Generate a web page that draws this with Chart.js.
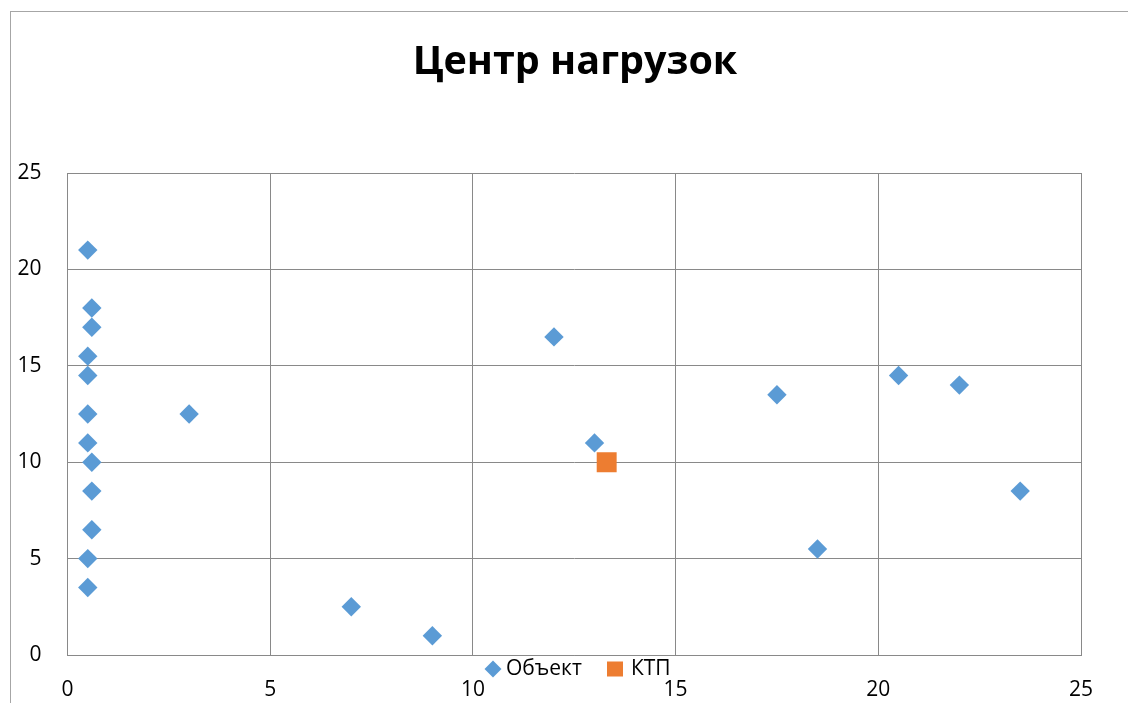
<!DOCTYPE html>
<html>
<head>
<meta charset="utf-8">
<script src="https://cdn.jsdelivr.net/npm/chart.js@4"></script>
<style>
  html, body { margin: 0; padding: 0; background: #fff; }
  #wrap { width: 1128px; height: 703px; position: relative; }
</style>
</head>
<body>
<div id="wrap"><canvas id="c" width="1128" height="703"></canvas></div>
<script>
const chartTitle = "Центр нагрузок";
const seriesNames = ["Объект", "КТП"];
const objectX = [0.5, 0.6, 0.6, 0.5, 0.5, 0.5, 0.5, 0.6, 0.6, 0.6, 0.5, 0.5, 3, 7, 9, 12, 13, 17.5, 18.5, 20.5, 22, 23.5];
const objectY = [21, 18, 17, 15.5, 14.5, 12.5, 11, 10, 8.5, 6.5, 5, 3.5, 12.5, 2.5, 1, 16.5, 11, 13.5, 5.5, 14.5, 14, 8.5];
const ktpX = [13.3];
const ktpY = [10];
const axisMin = 0, axisMax = 25, axisStep = 5;

const blue = '#5B9BD5', orange = '#ED7D31', gridGrey = '#898989';
const FONT = "'Open Sans', 'Liberation Sans', sans-serif";

const frame = {
  id: 'frame',
  beforeDraw(chart) {
    const ctx = chart.ctx;
    ctx.save();
    ctx.fillStyle = '#fff';
    ctx.fillRect(0, 0, chart.width, chart.height);
    ctx.strokeStyle = '#a6a6a6';
    ctx.lineWidth = 1;
    ctx.strokeRect(10.5, 11.5, 1400, 1000);
    ctx.restore();
  }
};

const titleAndLegend = {
  id: 'titleAndLegend',
  afterDraw(chart) {
    const ctx = chart.ctx;
    ctx.save();
    // title
    ctx.font = "bold 39.5px " + FONT;
    ctx.textAlign = 'center';
    ctx.textBaseline = 'middle';
    ctx.fillStyle = '#000';
    ctx.fillText(chartTitle, 575, 63);
    // legend
    ctx.textAlign = 'left';
    ctx.font = "21px " + FONT;
    const cy = 669;
    const d = chart.data.datasets;
    const x = 493;
    ctx.fillStyle = d[0].backgroundColor;
    ctx.beginPath();
    ctx.moveTo(x, cy - 8.5); ctx.lineTo(x + 8.5, cy); ctx.lineTo(x, cy + 8.5); ctx.lineTo(x - 8.5, cy); ctx.closePath();
    ctx.fill();
    ctx.fillStyle = '#000';
    ctx.fillText(d[0].label, 506, cy);
    ctx.fillStyle = d[1].backgroundColor;
    ctx.fillRect(607, cy - 7.5, 16, 15);
    ctx.fillStyle = '#000';
    ctx.fillText(d[1].label, 631, cy);
    ctx.restore();
  }
};

new Chart(document.getElementById('c'), {
  type: 'scatter',
  data: {
    datasets: [
      {
        label: seriesNames[0],
        data: objectX.map((x, i) => ({ x, y: objectY[i] })),
        pointStyle: 'rectRot',
        pointRadius: 9.7,
        pointHoverRadius: 9.7,
        backgroundColor: blue,
        borderColor: blue,
        borderWidth: 0
      },
      {
        label: seriesNames[1],
        data: ktpX.map((x, i) => ({ x, y: ktpY[i] })),
        pointStyle: 'rect',
        pointRadius: 14.1,
        pointHoverRadius: 14.1,
        backgroundColor: orange,
        borderColor: orange,
        borderWidth: 0
      }
    ]
  },
  options: {
    responsive: false,
    animation: false,
    layout: { padding: { left: 0, right: 47, top: 173, bottom: 0 } },
    plugins: {
      legend: { display: false },
      tooltip: { enabled: false },
      title: { display: false }
    },
    scales: {
      x: {
        type: 'linear',
        min: axisMin, max: axisMax,
        afterFit(s) { s.height = 48; },
        grid: { color: gridGrey, drawTicks: false, lineWidth: 1 },
        border: { color: gridGrey },
        ticks: { stepSize: axisStep, color: '#000', padding: 22, font: { family: FONT, size: 21 } }
      },
      y: {
        type: 'linear',
        min: axisMin, max: axisMax,
        afterFit(s) { s.width = 67.5; },
        grid: { color: gridGrey, drawTicks: false, lineWidth: 1 },
        border: { color: gridGrey },
        ticks: { stepSize: axisStep, color: '#000', padding: 26, font: { family: FONT, size: 21 } }
      }
    }
  },
  plugins: [frame, titleAndLegend]
});
</script>
</body>
</html>
